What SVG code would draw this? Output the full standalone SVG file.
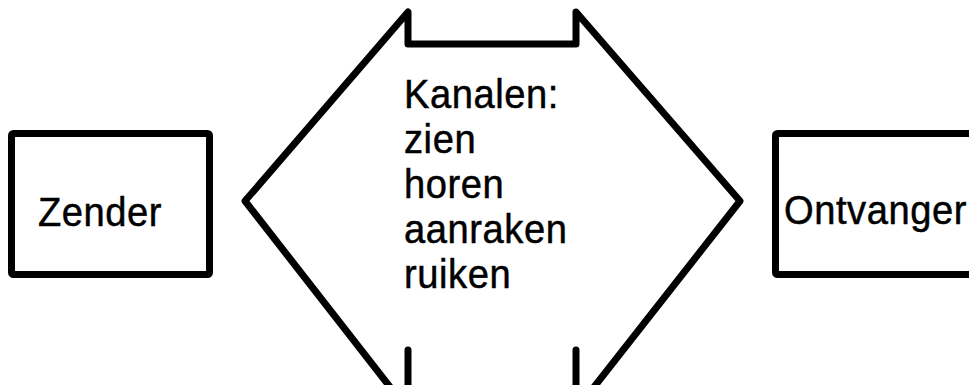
<svg xmlns="http://www.w3.org/2000/svg" width="969" height="385" viewBox="0 0 969 385">
<style>
.ln{fill:none;stroke:#000;stroke-width:7;stroke-linejoin:round;stroke-linecap:round}
.t{font-family:"Liberation Sans",Arial,sans-serif;font-size:41px;letter-spacing:0.6px;fill:#000;stroke:#000;stroke-width:0.5}
</style>
<rect width="969" height="385" fill="#fff"/>
<g id="zender">
<rect class="ln" x="11.5" y="133.5" width="198" height="141" rx="2"/>
<text class="t" transform="translate(38,226) scale(0.93,1)">Zender</text>
</g>
<g id="kanalen">
<path class="ln" d="M408,410 L245,201 L408,12 L408,44 L576,44 L576,12 L740,201 L576,410"/>
<path class="ln" d="M408,350 L408,410 M576,350 L576,410"/>
<g transform="translate(404,0) scale(0.93,1)">
<text class="t" x="0" y="108">Kanalen:</text>
<text class="t" x="0" y="153">zien</text>
<text class="t" x="0" y="198">horen</text>
<text class="t" x="0" y="243">aanraken</text>
<text class="t" x="0" y="288">ruiken</text>
</g>
</g>
<g id="ontvanger">
<rect class="ln" x="775.5" y="133.5" width="210" height="141" rx="2"/>
<text class="t" transform="translate(784,224) scale(0.93,1)">Ontvanger</text>
</g>
<g id="connectors"></g>
</svg>
